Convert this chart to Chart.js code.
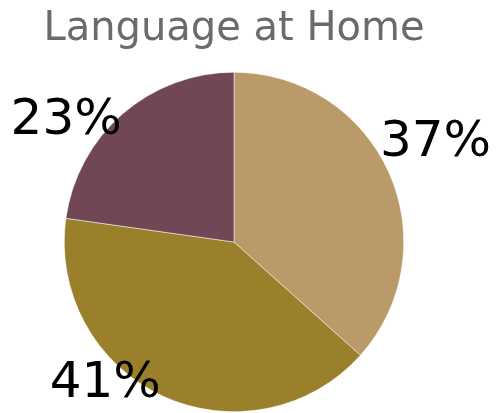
<!DOCTYPE html>
<html>
<head>
<meta charset="utf-8">
<script src="https://cdn.jsdelivr.net/npm/chart.js@4/dist/chart.umd.min.js"></script>
<style>
  html, body { margin: 0; padding: 0; background: #fff; }
  #wrap { width: 499px; height: 413px; position: relative; }
</style>
</head>
<body>
<div id="wrap"><canvas id="pie"></canvas></div>
<script>
  const title = 'Language at Home';
  const categories = ['A', 'B', 'C'];
  const shares = [37, 41, 23];
  const sliceColors = ['#b99a68', '#9b802b', '#714755'];

  // label placement relative to each slice's middle angle (deg, radius factor)
  const labelPlace = [
    { dAngle: 1, dist: 1.29 },
    { dAngle: 14.8, dist: 1.186 },
    { dAngle: -16.3, dist: 1.175 },
  ];

  const overlay = {
    id: 'overlay',
    afterDatasetsDraw(chart) {
      const ctx = chart.ctx;
      const arcs = chart.getDatasetMeta(0).data;
      ctx.save();
      // title
      ctx.fillStyle = '#6b6b6b';
      ctx.font = '40px "DejaVu Sans"';
      ctx.textAlign = 'center';
      ctx.textBaseline = 'alphabetic';
      const cx = arcs[0].x;
      ctx.fillText(title, cx, 40);

      // percentage labels
      ctx.fillStyle = '#000';
      ctx.font = '50px "DejaVu Sans"';
      arcs.forEach((arc, i) => {
        const mid = (arc.startAngle + arc.endAngle) / 2 + labelPlace[i].dAngle * Math.PI / 180;
        const r = arc.outerRadius * labelPlace[i].dist;
        const x = arc.x + Math.cos(mid) * r;
        const y = arc.y + Math.sin(mid) * r;
        ctx.fillText(shares[i] + '%', x, y);
      });
      ctx.restore();
    },
  };

  new Chart(document.getElementById('pie'), {
    type: 'pie',
    data: {
      labels: categories,
      datasets: [{
        data: shares,
        backgroundColor: sliceColors,
        borderColor: '#ffffff',
        borderWidth: 0.5,
      }],
    },
    options: {
      responsive: true,
      maintainAspectRatio: false,
      animation: false,
      layout: { padding: { top: 72, bottom: 1, left: 64, right: 95 } },
      plugins: {
        legend: { display: false },
        tooltip: { enabled: false },
        title: { display: false },
      },
    },
    plugins: [overlay],
  });
</script>
</body>
</html>
